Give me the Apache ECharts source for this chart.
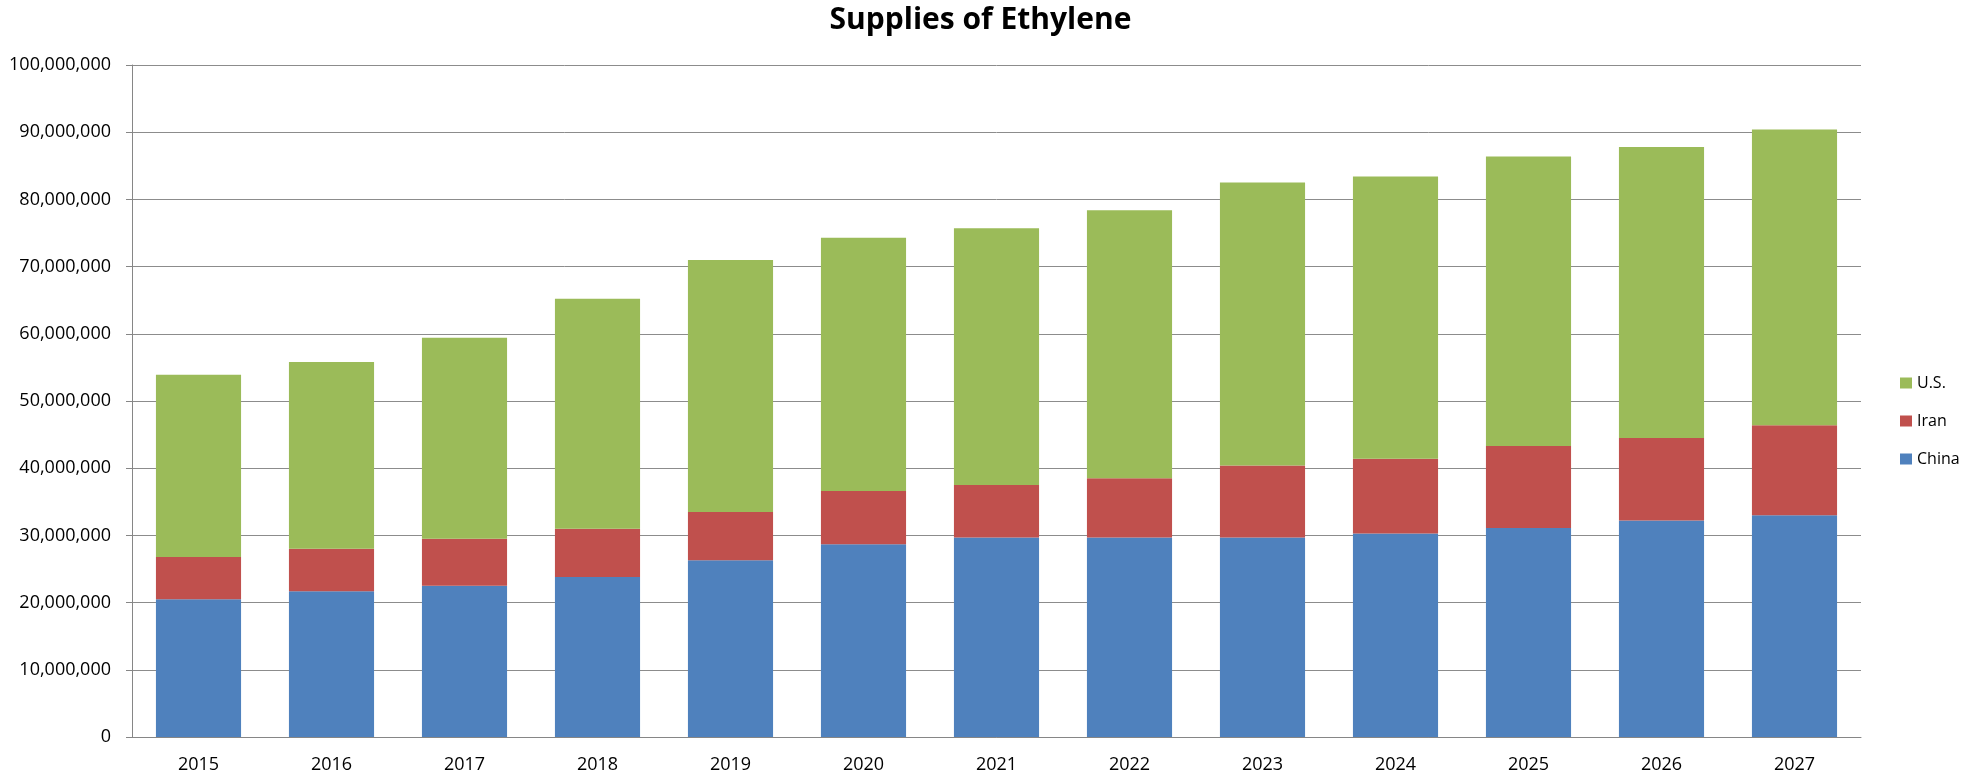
<!DOCTYPE html>
<html>
<head>
<meta charset="utf-8">
<script src="https://cdn.jsdelivr.net/npm/echarts@6/dist/echarts.min.js"></script>
<style>html,body{margin:0;padding:0;background:#fff}#c{width:1961px;height:774px}</style>
</head>
<body>
<div id="c"></div>
<script>
const years = ['2015','2016','2017','2018','2019','2020','2021','2022','2023','2024','2025','2026','2027'];
const china = [20.5,21.7,22.5,23.8,26.3,28.7,29.7,29.7,29.7,30.3,31.1,32.2,33.0].map(v=>v*1e6);
const iran  = [6.3,6.3,7.0,7.2,7.2,7.9,7.8,8.8,10.7,11.1,12.2,12.3,13.4].map(v=>v*1e6);
const us    = [27.1,27.8,29.9,34.2,37.5,37.7,38.2,39.9,42.1,42.0,43.1,43.3,44.0].map(v=>v*1e6);

const font = 'Open Sans';
const chart = echarts.init(document.getElementById('c'));
chart.setOption({
  animation:false,
  title:{text:'Supplies of Ethylene',left:'center',top:0,textStyle:{fontFamily:font,fontWeight:'bold',fontSize:30,color:'#000'}},
  legend:{orient:'vertical',left:1895,top:370,itemGap:22,itemWidth:12,itemHeight:11,icon:'rect',
    data:['U.S.','Iran','China'],textStyle:{fontFamily:font,fontSize:16,color:'#000'}},
  grid:{left:132,right:100,top:65,bottom:35,containLabel:false},
  xAxis:{type:'category',data:years,axisLine:{lineStyle:{color:'#868686'}},axisTick:{show:false},
    axisLabel:{fontFamily:font,fontSize:18,color:'#000',margin:19}},
  yAxis:{type:'value',min:0,max:100000000,interval:10000000,
    axisLine:{show:true,lineStyle:{color:'#868686'}},axisTick:{show:true,length:6,lineStyle:{color:'#868686'}},
    splitLine:{lineStyle:{color:'#8c8c8c'}},
    axisLabel:{fontFamily:font,fontSize:18,color:'#000',margin:21,formatter:v=>v.toLocaleString('en-US')}},
  series:[
    {name:'China',type:'bar',stack:'s',data:china,barCategoryGap:'36%',itemStyle:{color:'#4F81BD'}},
    {name:'Iran',type:'bar',stack:'s',data:iran,itemStyle:{color:'#C0504D'}},
    {name:'U.S.',type:'bar',stack:'s',data:us,itemStyle:{color:'#9BBB59'}}
  ]
});
</script>
</body>
</html>
